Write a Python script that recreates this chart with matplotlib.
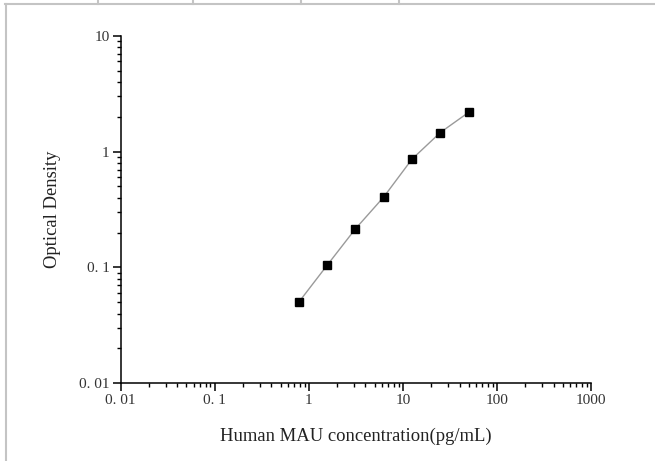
import matplotlib
matplotlib.use("Agg")
import matplotlib.pyplot as plt
from matplotlib.ticker import FixedLocator, FixedFormatter, LogLocator, NullFormatter
from matplotlib.lines import Line2D

# Data
concentration = [0.78, 1.56, 3.125, 6.25, 12.5, 25, 50]
optical_density = [0.050, 0.104, 0.215, 0.405, 0.86, 1.46, 2.18]

x_ticks = [0.01, 0.1, 1, 10, 100, 1000]
x_tick_labels = ["0. 01", "0. 1", "1", "10", "100", "1000"]
y_ticks = [0.01, 0.1, 1, 10]
y_tick_labels = ["0. 01", "0. 1", "1", "10"]

x_label = "Human MAU concentration(pg/mL)"
y_label = "Optical Density"

plt.rcParams['font.family'] = ['Liberation Serif', 'DejaVu Serif']

W, H = 655, 461
fig = plt.figure(figsize=(W / 100, H / 100), dpi=100)
fig.patch.set_facecolor('white')

ax = fig.add_axes([120.7 / W, 1 - 383.3 / H, (591 - 120.7) / W, (383.3 - 35.7) / H])

ax.plot(concentration, optical_density, color='#9a9a9a', linewidth=1.0,
        marker='s', markersize=6, markerfacecolor='black', markeredgecolor='black',
        zorder=3)

ax.set_xscale('log')
ax.set_yscale('log')
ax.set_xlim(0.01, 1000)
ax.set_ylim(0.01, 10)

ax.xaxis.set_major_locator(FixedLocator(x_ticks))
ax.xaxis.set_major_formatter(FixedFormatter(x_tick_labels))
ax.yaxis.set_major_locator(FixedLocator(y_ticks))
ax.yaxis.set_major_formatter(FixedFormatter(y_tick_labels))
ax.xaxis.set_minor_locator(LogLocator(base=10, subs=range(2, 10), numticks=20))
ax.yaxis.set_minor_locator(LogLocator(base=10, subs=range(2, 10), numticks=20))
ax.xaxis.set_minor_formatter(NullFormatter())
ax.yaxis.set_minor_formatter(NullFormatter())

for s in ['top', 'right']:
    ax.spines[s].set_visible(False)
for s in ['left', 'bottom']:
    ax.spines[s].set_linewidth(1.1)
    ax.spines[s].set_color('black')

ax.tick_params(axis='both', which='major', direction='out', length=6, width=1.1,
               labelsize=11, colors='black', pad=2)
ax.tick_params(axis='both', which='minor', direction='out', length=3, width=1.0,
               colors='black')
for lbl in ax.get_xticklabels() + ax.get_yticklabels():
    lbl.set_color('#333333')

ax.set_xlabel(x_label, fontsize=13.4, color='#222222')
ax.set_ylabel(y_label, fontsize=13.4, color='#222222')
ax.xaxis.set_label_coords(0.5, -(436 - 383.3) / (383.3 - 35.7))
ax.yaxis.set_label_coords(-(120.7 - 52.5) / (591 - 120.7), 0.5)
ax.xaxis.label.set_va('center')
ax.yaxis.label.set_va('center')

# page frame decoration
gray = '#c4c4c4'
def fl(x0, y0, x1, y1):
    fig.add_artist(Line2D([x0 / W, x1 / W], [1 - y0 / H, 1 - y1 / H],
                          color=gray, linewidth=1.5, transform=fig.transFigure))
fl(5, 4, W, 4)
fl(5.5, 4, 5.5, H)
for xd in [98.3, 193.3, 301, 399]:
    fl(xd, 0, xd, 4)

fig.savefig('out.png', dpi=100, facecolor='white')
